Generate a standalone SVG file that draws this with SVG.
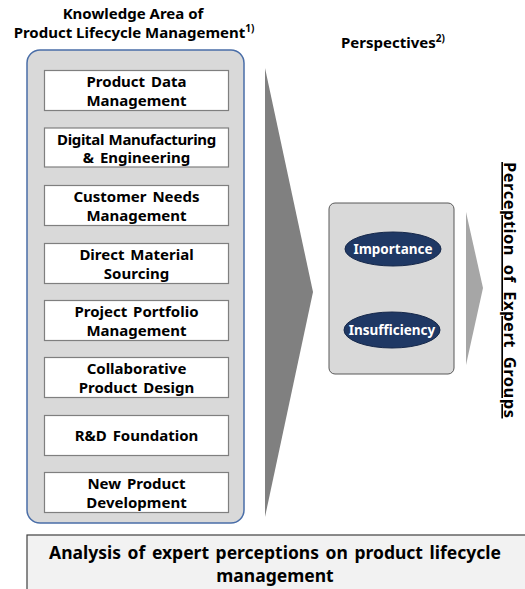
<svg xmlns="http://www.w3.org/2000/svg" width="525" height="589" viewBox="0 0 525 589">
  <style>
    text { font-family: "Noto Sans", "Open Sans", sans-serif; font-weight: bold; fill: #000; }
    .title { font-size: 15px; text-anchor: middle; }
    .item { font-size: 15px; text-anchor: middle; word-spacing: 2px; }
    .itembox { fill: #ffffff; stroke: #7f7f7f; stroke-width: 1.2; }
    .oval { fill: #1f3864; stroke: #16284a; stroke-width: 1; }
    .ovaltext { font-size: 13.5px; fill: #ffffff; text-anchor: middle; }
    .sup { font-size: 10px; }
  </style>

  <!-- titles -->
  <text class="title" x="133" y="19">Knowledge Area of</text>
  <text class="title" x="134" y="38">Product Lifecycle Management<tspan class="sup" dy="-6">1)</tspan></text>
  <text x="341" y="48" style="font-size:15px">Perspectives<tspan class="sup" dy="-6">2)</tspan></text>

  <!-- knowledge area container -->
  <g id="knowledge-area">
    <rect x="27" y="50" width="217" height="473" rx="13" ry="13" fill="#d9d9d9" stroke="#4a6ea8" stroke-width="1.5"/>
  </g>

  <g id="product-data-management">
    <rect class="itembox" x="44.5" y="70.5" width="184" height="40"/>
    <text class="item" x="136.5" y="87">Product Data</text>
    <text class="item" x="136.5" y="106">Management</text>
  </g>
  <g id="digital-manufacturing">
    <rect class="itembox" x="44.5" y="128" width="184" height="39"/>
    <text class="item" x="136.5" y="145" style="word-spacing:1px; letter-spacing:-0.35px">Digital Manufacturing</text>
    <text class="item" x="136.5" y="163">&amp; Engineering</text>
  </g>
  <g id="customer-needs-management">
    <rect class="itembox" x="44.5" y="185.5" width="184" height="40"/>
    <text class="item" x="136.5" y="202">Customer Needs</text>
    <text class="item" x="136.5" y="221">Management</text>
  </g>
  <g id="direct-material-sourcing">
    <rect class="itembox" x="44.5" y="243.5" width="184" height="40"/>
    <text class="item" x="136.5" y="260">Direct Material</text>
    <text class="item" x="136.5" y="279">Sourcing</text>
  </g>
  <g id="project-portfolio-management">
    <rect class="itembox" x="44.5" y="300.5" width="184" height="40"/>
    <text class="item" x="136.5" y="317">Project Portfolio</text>
    <text class="item" x="136.5" y="336">Management</text>
  </g>
  <g id="collaborative-product-design">
    <rect class="itembox" x="44.5" y="357.5" width="184" height="40"/>
    <text class="item" x="136.5" y="374">Collaborative</text>
    <text class="item" x="136.5" y="393">Product Design</text>
  </g>
  <g id="rd-foundation">
    <rect class="itembox" x="44.5" y="415.5" width="184" height="40"/>
    <text class="item" x="136.5" y="441">R&amp;D Foundation</text>
  </g>
  <g id="new-product-development">
    <rect class="itembox" x="44.5" y="472.5" width="184" height="40"/>
    <text class="item" x="136.5" y="489">New Product</text>
    <text class="item" x="136.5" y="508">Development</text>
  </g>

  <!-- perspectives panel -->
  <g id="perspectives">
    <rect x="329" y="203" width="125" height="171" rx="6" ry="6" fill="#d9d9d9" stroke="#595959" stroke-width="1"/>
  </g>
  <g id="importance">
    <ellipse class="oval" cx="393" cy="249" rx="48" ry="17"/>
    <text class="ovaltext" x="393" y="254">Importance</text>
  </g>
  <g id="insufficiency">
    <ellipse class="oval" cx="392" cy="330" rx="48" ry="18"/>
    <text class="ovaltext" x="392" y="335">Insufficiency</text>
  </g>

  <!-- flow arrows -->
  <g id="connectors">
    <polygon points="265,68 313,292 265,517" fill="#808080"/>
    <polygon points="466,212 483,288 466,365" fill="#a6a6a6"/>
  </g>

  <!-- outcome label, rotated -->
  <g id="perception-of-expert-groups">
    <text transform="translate(504,162) rotate(90)" x="0" y="0" style="font-size:16.5px; letter-spacing:0.5px; word-spacing:4px" text-decoration="underline">Perception of Expert Groups</text>
  </g>

  <!-- analysis banner -->
  <g id="analysis">
    <rect x="27" y="535" width="510" height="70" fill="#f2f2f2" stroke="#404040" stroke-width="1.2"/>
    <text x="275" y="559" style="font-size:17.5px; word-spacing:2px" text-anchor="middle">Analysis of expert perceptions on product lifecycle</text>
    <text x="275" y="582" style="font-size:17.5px" text-anchor="middle">management</text>
  </g>
</svg>
